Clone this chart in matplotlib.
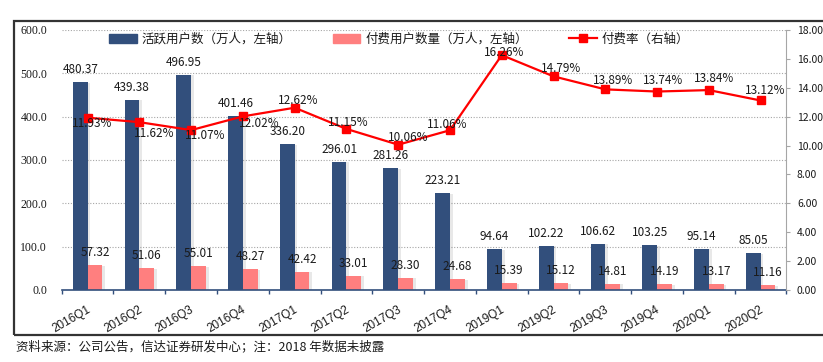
import matplotlib
matplotlib.use('Agg')
import matplotlib.pyplot as plt
import matplotlib.patheffects as pe
import matplotlib.transforms as mtransforms
from matplotlib.patches import Rectangle, Patch
from matplotlib.lines import Line2D
import numpy as np

# ---------------- data ----------------
categories = ['2016Q1', '2016Q2', '2016Q3', '2016Q4', '2017Q1', '2017Q2', '2017Q3',
              '2017Q4', '2019Q1', '2019Q2', '2019Q3', '2019Q4', '2020Q1', '2020Q2']
active_users = [480.37, 439.38, 496.95, 401.46, 336.20, 296.01, 281.26,
                223.21, 94.64, 102.22, 106.62, 103.25, 95.14, 85.05]
paid_users = [57.32, 51.06, 55.01, 48.27, 42.42, 33.01, 28.30,
              24.68, 15.39, 15.12, 14.81, 14.19, 13.17, 11.16]
paid_rate = [11.93, 11.62, 11.07, 12.02, 12.62, 11.15, 10.06,
             11.06, 16.26, 14.79, 13.89, 13.74, 13.84, 13.12]
left_ticks = [0, 100, 200, 300, 400, 500, 600]
right_ticks = [0, 2, 4, 6, 8, 10, 12, 14, 16, 18]

series_names = ['活跃用户数（万人，左轴）', '付费用户数量（万人，左轴）', '付费率（右轴）']
footnote = '资料来源：公司公告，信达证券研发中心；注：2018 年数据未披露'

# label nudges for the rate labels (pixels: right, up)
rate_label_dx = [5, 15, 14, 16, 4, 2, 10, -3, 2, 8, 8, 6, 5, 5]
rate_label_dy = [-6, -11, -5, -7, 7, 6, 7, 6, 3, 8, 9, 11, 12, 10]

# ---------------- style ----------------
CJK = ['Noto Sans CJK SC', 'DejaVu Sans']
plt.rcParams['font.family'] = CJK
NAVY = '#324F7C'
PINK = '#FF7F7F'
RED = '#FF0000'
TXT = '#1A1A1A'

W, H = 823, 362
fig = plt.figure(figsize=(W / 100, H / 100), dpi=100)
fig.patch.set_facecolor('white')

ax_l, ax_r, ax_b, ax_t = 61.7, 786.5, 290, 30
ax = fig.add_axes([ax_l / W, 1 - ax_b / H, (ax_r - ax_l) / W, (ax_b - ax_t) / H])

x = np.arange(len(categories))
w = 0.285
shadow = [pe.SimplePatchShadow(offset=(2.0, -0.5), shadow_rgbFace='#8C8C8C', alpha=0.2), pe.Normal()]
b1 = ax.bar(x - w / 2, active_users, w, color=NAVY, zorder=2)
b2 = ax.bar(x + w / 2, paid_users, w, color=PINK, zorder=2)
for r in list(b1) + list(b2):
    r.set_path_effects(shadow)

ax.set_xlim(-0.5, len(categories) - 0.5)
ax.set_ylim(0, 600)
ax.set_yticks(left_ticks)
ax.set_yticklabels([f'{v:.1f}' for v in left_ticks], family=['Liberation Serif', 'DejaVu Serif'],
                   fontsize=8.5, color=TXT)
ax.yaxis.grid(True, linestyle=(0, (1, 1.5)), color='#A6A6A6', linewidth=0.8)
ax.set_axisbelow(True)
ax.tick_params(axis='y', length=0, pad=10.5)
for s in ['left', 'top', 'right']:
    ax.spines[s].set_visible(False)
ax.spines['bottom'].set_color(NAVY)
ax.spines['bottom'].set_linewidth(1.2)

ax.set_xticks(x)
ax.set_xticks(np.arange(len(categories) + 1) - 0.5, minor=True)
ax.tick_params(axis='x', which='major', length=0, pad=10)
ax.tick_params(axis='x', which='minor', length=3, width=1, color=NAVY, direction='out')
ax.set_xticklabels(categories, rotation=30, ha='right', rotation_mode='anchor',
                   family=['Liberation Sans', 'DejaVu Sans'], fontsize=8.5, color=TXT)
off = mtransforms.ScaledTranslation(-1 / 100, 0, fig.dpi_scale_trans)
for lbl in ax.get_xticklabels():
    lbl.set_transform(lbl.get_transform() + off)

for xi, v in zip(x, active_users):
    ax.annotate(f'{v:.2f}', (xi - w / 2, v), xytext=(0, 9), textcoords='offset points',
                ha='center', va='center', fontsize=8.5, color=TXT, zorder=5)
for xi, v in zip(x, paid_users):
    ax.annotate(f'{v:.2f}', (xi + w / 2, v), xytext=(0, 9), textcoords='offset points',
                ha='center', va='center', fontsize=8.5, color=TXT, zorder=5)

ax2 = ax.twinx()
ax2.set_ylim(0, 18)
ax2.plot(x, paid_rate, color=RED, lw=1.6, marker='s', ms=5.5, zorder=3)
ax2.set_yticks(right_ticks)
ax2.set_yticklabels([f'{v:.2f}' for v in right_ticks], fontsize=7.5, color=TXT)
ax2.tick_params(axis='y', direction='out', length=3, color='#A6A6A6', pad=4.5)
for s in ['left', 'top', 'bottom']:
    ax2.spines[s].set_visible(False)
ax2.spines['right'].set_color('#A6A6A6')
ax2.spines['right'].set_linewidth(0.8)

for xi, v, dx, dy in zip(x, paid_rate, rate_label_dx, rate_label_dy):
    ax2.annotate(f'{v:.2f}%', (xi, v), xytext=(dx * 0.72, dy * 0.72), textcoords='offset points',
                 ha='center', va='center', fontsize=8.5, color=TXT, zorder=6)

handles = [Patch(color=NAVY), Patch(color=PINK),
           Line2D([0], [0], color=RED, lw=1.6, marker='s', ms=5.5)]
fig.legend(handles, series_names, loc='center', bbox_to_anchor=(399 / W, 1 - 39 / H), ncol=3,
           frameon=False, fontsize=9, handlelength=2.2, handletextpad=0.4, columnspacing=3.3,
           labelcolor=TXT)

fig.add_artist(Rectangle((14 / W, 1 - 335 / H), 1.0, (335 - 21) / H, transform=fig.transFigure,
                         fill=False, lw=1.6, edgecolor='#333333', clip_on=False))
fig.text(16 / W, 1 - 347 / H, footnote, fontsize=9, ha='left', va='center', color=TXT)

fig.savefig('out.png', dpi=100)
